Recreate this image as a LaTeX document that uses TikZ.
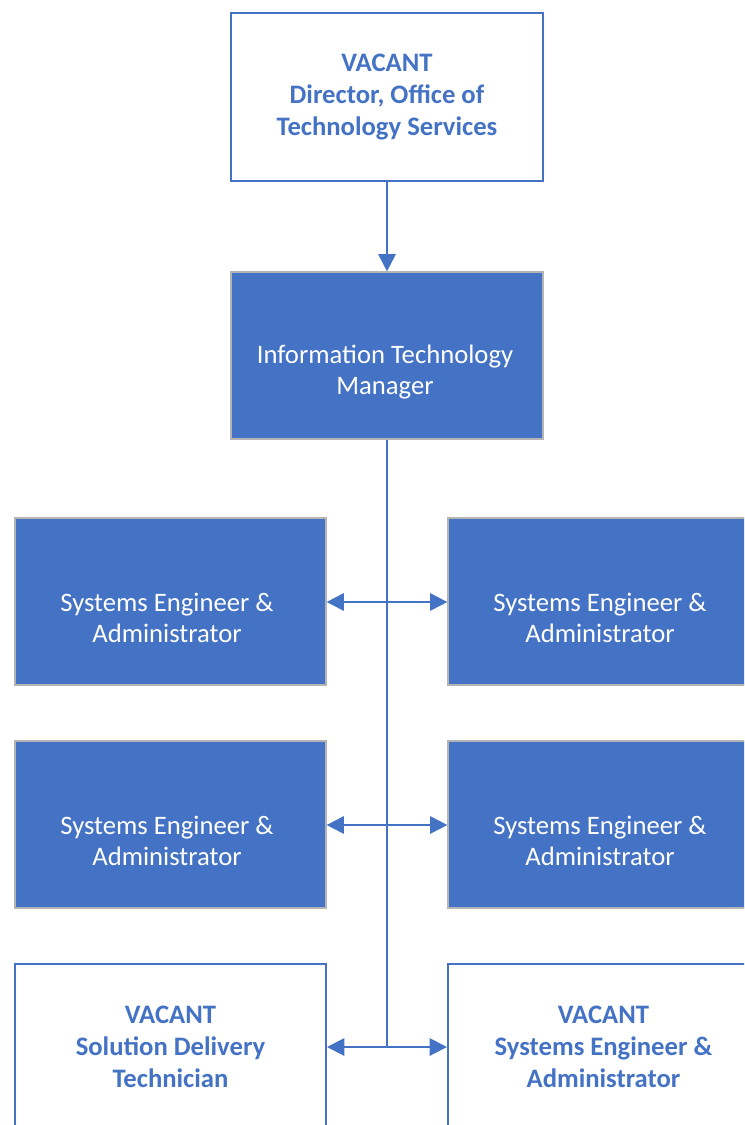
\documentclass[tikz,border=0pt]{standalone}
\usepackage{fontspec}
\setmainfont{Carlito}
\usetikzlibrary{arrows.meta}
\definecolor{ablue}{HTML}{4472C4}
\definecolor{agray}{HTML}{B4B4B4}
\begin{document}
\begin{tikzpicture}[x=0.75pt,y=-0.75pt,
  boxsize/.style={minimum width=233.25pt,minimum height=125.25pt,inner sep=0pt},
  filled/.style={boxsize,draw=agray,line width=0.9pt,fill=ablue},
  outlined/.style={boxsize,draw=ablue,line width=1.5pt,fill=white},
  wtext/.style={text=white,font=\fontsize{20}{23.6}\selectfont,align=center},
  btext/.style={text=ablue,font=\bfseries\fontsize{20}{23.8}\selectfont,align=center},
  conn/.style={draw=ablue,line width=1.5pt},
  tip/.style={-{Triangle[length=13pt,width=13pt]}}
]
\useasboundingbox (0,0) rectangle (744,1125);
\clip (0,0) rectangle (744,1125);

\node[outlined,minimum width=234pt,minimum height=126pt,btext] (dir) at (387,97) {VACANT\\Director, Office of\\Technology Services};
\node[filled,minimum width=234pt] (itm) at (387,355.5) {};
\node[wtext] (itmt) at (385,372) {Information Technology\\Manager};

\node[filled] (l1) at (170.5,601.5) {};
\node[filled] (r1) at (603.5,601.5) {};
\node[filled] (l2) at (170.5,824.5) {};
\node[filled] (r2) at (603.5,824.5) {};
\node[outlined,btext] (l3) at (170.5,1047) {VACANT\\Solution Delivery\\Technician};
\node[outlined,btext] (r3) at (603.5,1047) {VACANT\\Systems Engineer \&\\Administrator};

\node[wtext] (l1t) at (167,618) {Systems Engineer \&\\Administrator};
\node[wtext] (r1t) at (600,618) {Systems Engineer \&\\Administrator};
\node[wtext] (l2t) at (167,841) {Systems Engineer \&\\Administrator};
\node[wtext] (r2t) at (600,841) {Systems Engineer \&\\Administrator};

\coordinate (j1) at (387,602);
\coordinate (j2) at (387,825);
\coordinate (j3) at (387,1047);

\draw[conn,tip] (dir.south) -- (itm.north);
\draw[conn] (itm.south) -- (j3);
\foreach \j/\l/\r in {j1/l1/r1,j2/l2/r2,j3/l3/r3}{
  \draw[conn,tip] (\j) -- (\j -| \l.east);
  \draw[conn,tip] (\j) -- (\j -| \r.west);
}
\end{tikzpicture}
\end{document}
